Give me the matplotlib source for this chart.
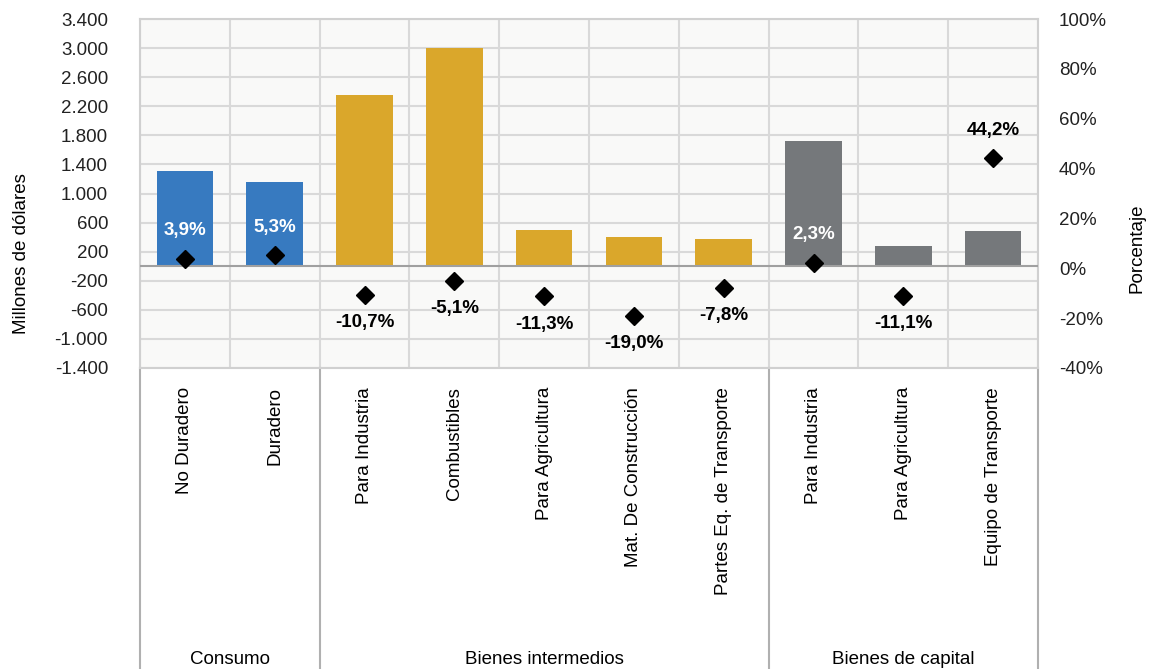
import matplotlib.pyplot as plt
from matplotlib.ticker import FuncFormatter, MultipleLocator
import matplotlib.transforms as mtransforms

plt.rcParams['font.family'] = ['Liberation Sans', 'DejaVu Sans']

# Datos
categorias = ['No Duradero', 'Duradero', 'Para Industria', 'Combustibles',
              'Para Agricultura', 'Mat. De Construcción', 'Partes Eq. de Transporte',
              'Para Industria', 'Para Agricultura', 'Equipo de Transporte']
valores = [1305, 1155, 2355, 3000, 492, 395, 368, 1720, 272, 479]
variacion = [3.9, 5.3, -10.7, -5.1, -11.3, -19.0, -7.8, 2.3, -11.1, 44.2]
grupos = ['Consumo', 'Bienes intermedios', 'Bienes de capital']
n_por_grupo = [2, 5, 3]
colores_grupo = ['#377AC0', '#DAA72B', '#75787B']
etiqueta_blanca = [True, True, False, False, False, False, False, True, False, False]

colores = []
for c, n in zip(colores_grupo, n_por_grupo):
    colores += [c] * n

fs = 13.5

fig = plt.figure(figsize=(11.5, 6.69), dpi=100)
ax = fig.add_axes([140 / 1150, 1 - 368 / 669, 898 / 1150, 349 / 669])
ax.set_facecolor('#F9F9F8')
x = list(range(len(categorias)))

ax.bar(x, valores, width=0.63, color=colores, zorder=3)
ax.axhline(0, color='#A0A0A0', lw=1.5, zorder=4)

ax.set_xlim(-0.5, len(categorias) - 0.5)
ax.set_ylim(-1400, 3400)
ax.set_yticks(list(range(-1400, 3401, 400)))
ax.yaxis.set_major_formatter(FuncFormatter(lambda v, p: f'{int(v):,}'.replace(',', '.')))
ax.set_xticks([])
ax.xaxis.set_minor_locator(MultipleLocator(1, offset=0.5))
ax.grid(axis='y', which='major', color='#D9D9D9', lw=1.5, zorder=0)
ax.grid(axis='x', which='minor', color='#D9D9D9', lw=1.5, zorder=0)
ax.tick_params(axis='both', which='both', length=0, labelsize=fs, colors='#222222')
ax.tick_params(axis='y', pad=23)
for s in ax.spines.values():
    s.set_color('#D0D0D0')
    s.set_linewidth(1.5)
ax.set_ylabel('Millones de dólares', fontsize=fs)
ax.yaxis.set_label_coords(-0.123, 0.327)

ax2 = ax.twinx()
ax2.set_ylim(-40, 100)
ax2.set_yticks(list(range(-40, 101, 20)))
ax2.yaxis.set_major_formatter(FuncFormatter(lambda v, p: f'{int(v)}%'))
ax2.tick_params(axis='y', length=0, labelsize=fs, pad=15, colors='#222222')
for s in ax2.spines.values():
    s.set_visible(False)
ax2.set_ylabel('Porcentaje', fontsize=fs)
ax2.yaxis.set_label_coords(1.101, 0.343)

ax2.plot(x, variacion, linestyle='none', marker='D', markersize=9.5,
         color='black', zorder=5)
for xi, v, blanca in zip(x, variacion, etiqueta_blanca):
    off = 20 if v > 0 else -20
    ax2.annotate(f'{v:.1f}%'.replace('.', ','), (xi, v), xytext=(0, off),
                 textcoords='offset points', ha='center', va='center',
                 fontsize=fs, fontweight='bold',
                 color='white' if blanca else 'black', zorder=6)

# Etiquetas de categorías y grupos debajo del gráfico
trans = mtransforms.blended_transform_factory(ax.transData, fig.transFigure)
for xi, cat in zip(x, categorias):
    ax.text(xi, 1 - 387 / 669, cat, rotation=90, ha='center', va='top',
            fontsize=fs, transform=trans)

inicio = -0.5
lim = [inicio]
for n in n_por_grupo:
    inicio += n
    lim.append(inicio)
for b in lim:
    ax.plot([b, b], [0, 1 - 368 / 669], transform=trans, color='#B0B0B0',
            lw=1.5, clip_on=False)
for g, a, b in zip(grupos, lim[:-1], lim[1:]):
    ax.text((a + b) / 2, 1 - 660 / 669, g, ha='center', va='center',
            fontsize=fs, transform=trans)

fig.savefig('out.png', dpi=100)
